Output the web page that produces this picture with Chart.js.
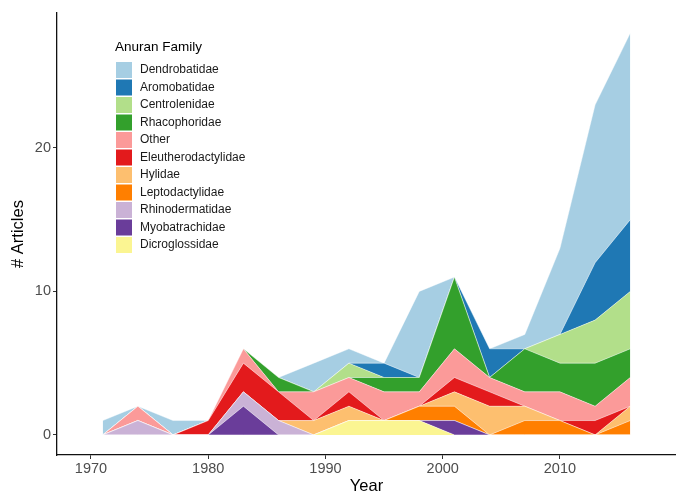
<!DOCTYPE html>
<html>
<head>
<meta charset="utf-8">
<title>Articles per Anuran Family</title>
<script src="https://cdn.jsdelivr.net/npm/chart.js@4.4.1/dist/chart.umd.min.js"></script>
<style>
  html, body { margin: 0; padding: 0; background: #ffffff; }
  #wrap { width: 676px; height: 493px; }
</style>
</head>
<body>
<div id="wrap"><canvas id="familyChart" width="676" height="493"></canvas></div>
<script>
// Data (articles per 3-year step)
const years = [1971, 1974, 1977, 1980, 1983, 1986, 1989, 1992, 1995, 1998, 2001, 2004, 2007, 2010, 2013, 2016];
const xTicks = [1970, 1980, 1990, 2000, 2010];
const yTicks = [0, 10, 20];

// stacked bottom -> top
const dicroglossidae      = [0, 0, 0, 0, 0, 0, 0, 1, 1, 1, 0, 0, 0, 0, 0, 0];
const myobatrachidae      = [0, 0, 0, 0, 2, 0, 0, 0, 0, 0, 1, 0, 0, 0, 0, 0];
const rhinodermatidae     = [0, 1, 0, 0, 1, 1, 0, 0, 0, 0, 0, 0, 0, 0, 0, 0];
const leptodactylidae     = [0, 0, 0, 0, 0, 0, 0, 0, 0, 1, 1, 0, 1, 1, 0, 1];
const hylidae             = [0, 0, 0, 0, 0, 0, 1, 1, 0, 0, 1, 2, 1, 0, 0, 1];
const eleutherodactylidae = [0, 0, 0, 1, 2, 2, 0, 1, 0, 0, 1, 1, 0, 0, 1, 0];
const other               = [0, 1, 0, 0, 1, 0, 2, 1, 2, 1, 2, 1, 1, 2, 1, 2];
const rhacophoridae       = [0, 0, 0, 0, 0, 1, 0, 0, 1, 1, 5, 0, 3, 2, 3, 2];
const centrolenidae       = [0, 0, 0, 0, 0, 0, 0, 1, 0, 0, 0, 0, 0, 2, 3, 4];
const aromobatidae        = [0, 0, 0, 0, 0, 0, 0, 0, 1, 0, 0, 2, 0, 0, 4, 5];
const dendrobatidae       = [1, 0, 1, 0, 0, 0, 2, 1, 0, 6, 0, 0, 1, 6, 11, 13];

const families = [
  { label: "Dicroglossidae", values: dicroglossidae, color: "#fbf592" },
  { label: "Myobatrachidae", values: myobatrachidae, color: "#6a3d9a" },
  { label: "Rhinodermatidae", values: rhinodermatidae, color: "#cab2d6" },
  { label: "Leptodactylidae", values: leptodactylidae, color: "#ff7f00" },
  { label: "Hylidae", values: hylidae, color: "#fdbf6f" },
  { label: "Eleutherodactylidae", values: eleutherodactylidae, color: "#e31a1c" },
  { label: "Other", values: other, color: "#fb9a99" },
  { label: "Rhacophoridae", values: rhacophoridae, color: "#33a02c" },
  { label: "Centrolenidae", values: centrolenidae, color: "#b2df8a" },
  { label: "Aromobatidae", values: aromobatidae, color: "#1f78b4" },
  { label: "Dendrobatidae", values: dendrobatidae, color: "#a6cee3" },
];

const FONT = "'Liberation Sans', Arial, sans-serif";

// Legend drawn inside the panel, top-left, same order as ggplot (top of stack first)
const familyLegend = {
  id: "familyLegend",
  afterDraw(chart) {
    const ctx = chart.ctx;
    ctx.save();
    ctx.textBaseline = "middle";
    ctx.textAlign = "left";
    ctx.fillStyle = "#000000";
    ctx.font = "13.5px " + FONT;
    ctx.fillText("Anuran Family", 115, 47);

    ctx.font = "12px " + FONT;
    const sets = chart.data.datasets.slice().reverse();
    sets.forEach((ds, i) => {
      const y = 70 + i * 17.5;
      ctx.fillStyle = ds.backgroundColor;
      ctx.fillRect(116, y - 8, 16, 16);
      ctx.fillStyle = "#1a1a1a";
      ctx.fillText(ds.label, 140, y);
    });
    ctx.restore();
  },
};

document.addEventListener("DOMContentLoaded", () => {
  const ctx = document.getElementById("familyChart").getContext("2d");

  const datasets = families.map((f, i) => ({
    label: f.label,
    data: years.map((yr, j) => ({ x: yr, y: f.values[j] })),
    backgroundColor: f.color,
    borderColor: "rgba(255,255,255,0.75)",
    borderWidth: 0.6,
    pointRadius: 0,
    tension: 0,
    fill: i === 0 ? "origin" : "-1",
  }));

  new Chart(ctx, {
    type: "line",
    data: { datasets: datasets },
    options: {
      responsive: false,
      animation: false,
      devicePixelRatio: 1,
      layout: { padding: { top: 13, right: 0, bottom: 0, left: 0 } },
      plugins: {
        legend: { display: false },
        tooltip: { enabled: false },
      },
      scales: {
        x: {
          type: "linear",
          min: 1967.1,
          max: 2019.9,
          afterBuildTicks: (scale) => {
            scale.ticks = xTicks.map((v) => ({ value: v }));
          },
          afterFit: (scale) => {
            scale.height = 38;
          },
          grid: {
            display: true,
            drawOnChartArea: false,
            drawTicks: true,
            tickLength: 4,
            color: "#333333",
          },
          border: { display: true, color: "#111111", width: 1.3 },
          ticks: {
            color: "#4d4d4d",
            font: { family: FONT, size: 14.5 },
            padding: 1,
            maxRotation: 0,
            callback: (v) => String(v),
          },
          title: {
            display: true,
            text: "Year",
            color: "#000000",
            font: { family: FONT, size: 16.5, lineHeight: 0.8 },
            padding: { top: 0, bottom: 0 },
          },
        },
        y: {
          type: "linear",
          stacked: true,
          min: -1.4,
          max: 29.4,
          afterBuildTicks: (scale) => {
            scale.ticks = yTicks.map((v) => ({ value: v }));
          },
          afterFit: (scale) => {
            scale.width = 57;
          },
          grid: {
            display: true,
            drawOnChartArea: false,
            drawTicks: true,
            tickLength: 4,
            color: "#333333",
          },
          border: { display: true, color: "#111111", width: 1.3 },
          ticks: {
            color: "#4d4d4d",
            font: { family: FONT, size: 14.5 },
            padding: 2,
          },
          title: {
            display: true,
            text: "# Articles",
            color: "#000000",
            font: { family: FONT, size: 16.5 },
            padding: { top: 9, bottom: 0 },
          },
        },
      },
    },
    plugins: [familyLegend],
  });
});
</script>
</body>
</html>
